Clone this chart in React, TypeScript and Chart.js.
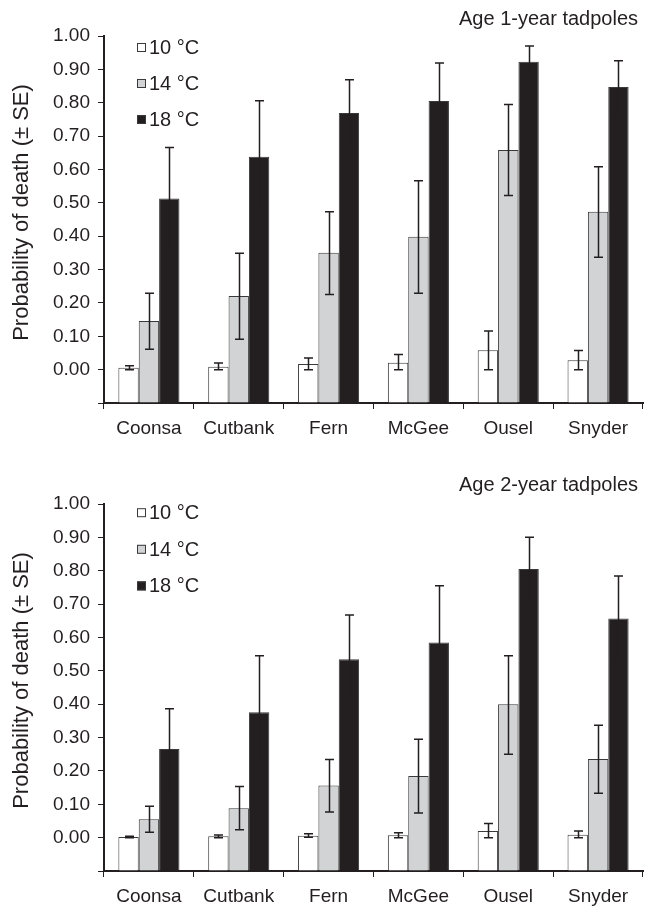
import React, { useEffect, useRef } from 'react';
import { Chart, registerables } from 'chart.js';

Chart.register(...registerables);

// ---------- data ----------
const sites = ['Coonsa', 'Cutbank', 'Fern', 'McGee', 'Ousel', 'Snyder'];
const seriesLabels = ['10 °C', '14 °C', '18 °C'];
const yMin = -0.1;
const yMax = 1.0;
const yStep = 0.1;

// Age 1-year tadpoles
const age1T10 = [0.006, 0.009, 0.017, 0.021, 0.058, 0.028];
const age1T10Lo = [0.000, 0.000, 0.000, 0.000, 0.000, 0.000];
const age1T10Hi = [0.012, 0.020, 0.035, 0.045, 0.116, 0.057];
const age1T14 = [0.146, 0.221, 0.350, 0.398, 0.658, 0.473];
const age1T14Lo = [0.061, 0.091, 0.225, 0.229, 0.522, 0.337];
const age1T14Hi = [0.229, 0.349, 0.473, 0.566, 0.795, 0.608];
const age1T18 = [0.513, 0.638, 0.769, 0.805, 0.923, 0.847];
const age1T18Lo = [0.360, 0.470, 0.669, 0.691, 0.876, 0.768];
const age1T18Hi = [0.666, 0.806, 0.869, 0.919, 0.970, 0.926];

// Age 2-year tadpoles
const age2T10 = [0.002, 0.004, 0.006, 0.007, 0.020, 0.009];
const age2T10Lo = [0.000, 0.000, 0.001, 0.000, 0.000, 0.000];
const age2T10Hi = [0.004, 0.008, 0.012, 0.015, 0.042, 0.020];
const age2T14 = [0.055, 0.088, 0.156, 0.185, 0.400, 0.236];
const age2T14Lo = [0.016, 0.024, 0.077, 0.074, 0.250, 0.133];
const age2T14Hi = [0.094, 0.153, 0.234, 0.295, 0.545, 0.337];
const age2T18 = [0.266, 0.376, 0.535, 0.585, 0.805, 0.657];
const age2T18Lo = [0.146, 0.207, 0.403, 0.415, 0.710, 0.530];
const age2T18Hi = [0.386, 0.545, 0.667, 0.755, 0.900, 0.784];

const panelTitles = ['Age 1-year tadpoles', 'Age 2-year tadpoles'];
const yAxisTitle = 'Probability of death (± SE)';

// ---------- style ----------
const FONT = '"Liberation Sans", Arial, Helvetica, sans-serif';
const INK = '#231f20';
const EDGE = '#3a3a3a';
const fills = ['#ffffff', '#d1d3d4', '#231f20'];

const errorBarsPlugin = {
  id: 'errorBars',
  afterDatasetsDraw(chart: any) {
    const opts = chart.options.plugins.errorBars;
    if (!opts) return;
    const ctx = chart.ctx;
    const yScale = chart.scales.y;
    ctx.save();
    ctx.strokeStyle = INK;
    ctx.lineWidth = 1.5;
    chart.data.datasets.forEach((ds: any, i: number) => {
      const meta = chart.getDatasetMeta(i);
      meta.data.forEach((bar: any, j: number) => {
        const x = Math.round(bar.x) + 0.5;
        const yHi = yScale.getPixelForValue(opts.hi[i][j]);
        const yLo = yScale.getPixelForValue(opts.lo[i][j]);
        const cap = 4.5;
        ctx.beginPath();
        ctx.moveTo(x, yLo);
        ctx.lineTo(x, yHi);
        ctx.moveTo(x - cap, yHi);
        ctx.lineTo(x + cap, yHi);
        ctx.moveTo(x - cap, yLo);
        ctx.lineTo(x + cap, yLo);
        ctx.stroke();
      });
    });
    ctx.restore();
  },
};

const decorPlugin = {
  id: 'decor',
  afterDraw(chart: any) {
    const opts = chart.options.plugins.decor;
    if (!opts) return;
    const ctx = chart.ctx;
    const area = chart.chartArea;
    ctx.save();
    // panel title
    ctx.fillStyle = INK;
    ctx.font = `20px ${FONT}`;
    ctx.textAlign = 'right';
    ctx.textBaseline = 'alphabetic';
    ctx.fillText(opts.title, area.right - 5, opts.titleBaseline);
    // legend
    chart.data.datasets.forEach((ds: any, i: number) => {
      const cy = area.top + opts.legendTop + i * opts.legendGap;
      const sx = area.left + 33;
      ctx.fillStyle = ds.backgroundColor;
      ctx.fillRect(sx, cy - 4.5, 9, 9);
      ctx.strokeStyle = EDGE;
      ctx.lineWidth = 1;
      ctx.strokeRect(sx + 0.5, cy - 4.5 + 0.5, 8, 8);
      ctx.fillStyle = INK;
      ctx.font = `20px ${FONT}`;
      ctx.textAlign = 'left';
      ctx.textBaseline = 'middle';
      ctx.fillText(ds.label, sx + 12, cy + 1);
    });
    // y-axis title
    ctx.translate(opts.yTitleX, (area.top + area.bottom) / 2 + opts.yTitleShift);
    ctx.rotate(-Math.PI / 2);
    ctx.font = `22px ${FONT}`;
    ctx.textAlign = 'center';
    ctx.textBaseline = 'middle';
    ctx.fillStyle = INK;
    ctx.fillText(yAxisTitle, 0, 0);
    ctx.restore();
  },
};

function makeConfig(
  values: number[][],
  lo: number[][],
  hi: number[][],
  title: string,
  titleBaseline: number,
  legendTop: number,
  legendGap: number,
  yTitleShift: number
): any {
  return {
    type: 'bar',
    data: {
      labels: sites,
      datasets: values.map((v, i) => ({
        label: seriesLabels[i],
        data: v,
        base: yMin,
        backgroundColor: fills[i],
        borderColor: EDGE,
        borderWidth: 1,
        borderSkipped: 'start',
        categoryPercentage: 0.68,
        barPercentage: 1.0,
      })),
    },
    options: {
      responsive: false,
      animation: false,
      layout: { padding: { top: 36, right: 7, bottom: 0, left: 0 } },
      plugins: {
        legend: { display: false },
        tooltip: { enabled: false },
        title: { display: false },
        errorBars: { lo, hi },
        decor: { title, titleBaseline, legendTop, legendGap, yTitleX: 22, yTitleShift },
      },
      scales: {
        x: {
          afterFit: (s: any) => {
            s.height = 36;
          },
          grid: {
            offset: true,
            drawOnChartArea: false,
            drawTicks: true,
            tickLength: 6,
            color: INK,
            lineWidth: 1,
          },
          border: { display: true, color: INK, width: 2 },
          ticks: { color: INK, font: { family: FONT, size: 19 }, padding: 8 },
        },
        y: {
          min: yMin,
          max: yMax,
          afterFit: (s: any) => {
            s.width = 104;
          },
          grid: {
            drawOnChartArea: false,
            drawTicks: true,
            tickLength: 6,
            color: INK,
            lineWidth: 1,
          },
          border: { display: true, color: INK, width: 2 },
          ticks: {
            stepSize: yStep,
            color: INK,
            font: { family: FONT, size: 19 },
            padding: 8,
            callback: (v: any) => (Number(v) < -0.0001 ? '' : Number(v).toFixed(2)),
          },
        },
      },
    },
    plugins: [errorBarsPlugin, decorPlugin],
  };
}

function Panel(props: { config: any; top: number }) {
  const ref = useRef<HTMLCanvasElement>(null);
  useEffect(() => {
    if (!ref.current) return;
    const chart = new Chart(ref.current, props.config);
    return () => chart.destroy();
  }, [props.config]);
  return (
    <canvas
      ref={ref}
      width={650}
      height={439}
      style={{ position: 'absolute', left: 0, top: props.top, width: 650, height: 439 }}
    />
  );
}

const config1 = makeConfig(
  [age1T10, age1T14, age1T18],
  [age1T10Lo, age1T14Lo, age1T18Lo],
  [age1T10Hi, age1T14Hi, age1T18Hi],
  panelTitles[0],
  25,
  11.5,
  36,
  -7
);
const config2 = makeConfig(
  [age2T10, age2T14, age2T18],
  [age2T10Lo, age2T14Lo, age2T18Lo],
  [age2T10Hi, age2T14Hi, age2T18Hi],
  panelTitles[1],
  23,
  8.7,
  36.6,
  -7
);

export default function App() {
  return (
    <div
      style={{
        position: 'fixed',
        left: 0,
        top: 0,
        width: 650,
        height: 907,
        overflow: 'hidden',
        background: '#ffffff',
      }}
    >
      <Panel config={config1} top={0} />
      <Panel config={config2} top={468} />
    </div>
  );
}
